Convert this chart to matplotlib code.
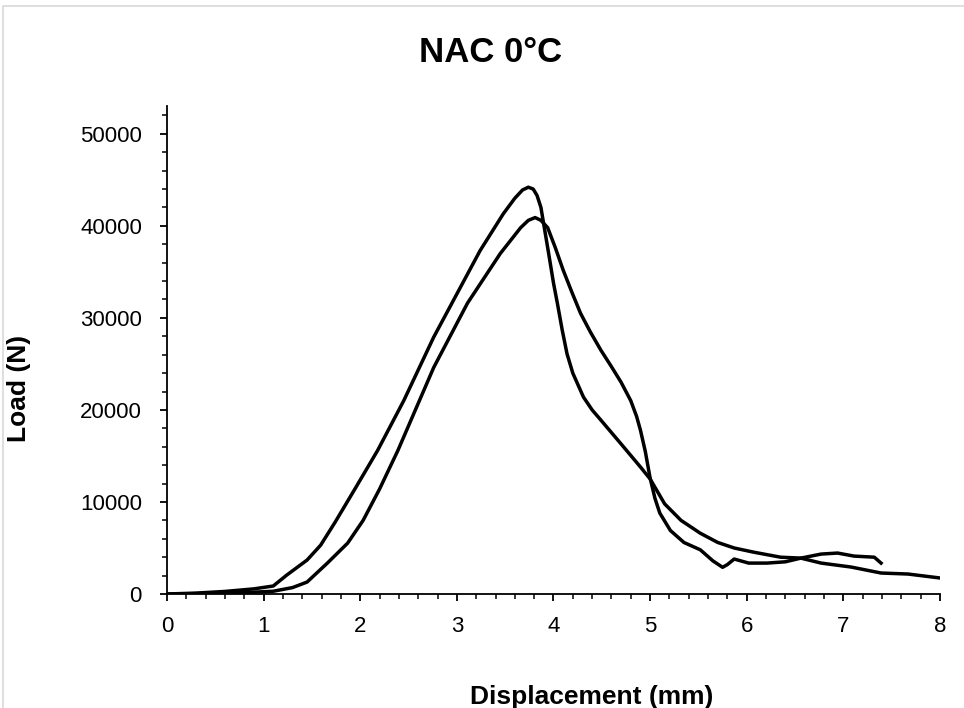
import numpy as np
import matplotlib.pyplot as plt
from matplotlib.ticker import MultipleLocator
from matplotlib.patches import Rectangle

# Specimen 1 (higher peak, tail runs to 8 mm)
disp_1 = [0.0, 0.3, 0.6, 0.9, 1.1, 1.24, 1.45, 1.59, 1.74, 1.95, 2.18, 2.45, 2.76, 3.0,
          3.24, 3.48, 3.6, 3.68, 3.74, 3.79, 3.83, 3.87, 3.91, 3.95, 4.0, 4.04, 4.09,
          4.14, 4.2, 4.31, 4.4, 4.49, 4.7, 4.9, 5.0, 5.15, 5.32, 5.52, 5.7, 5.87, 6.07,
          6.35, 6.56, 6.77, 7.08, 7.39, 7.67, 8.0]
load_1 = [0, 100, 280, 560, 870, 2060, 3690, 5300, 7800, 11500, 15600, 21000, 27900, 32600,
          37300, 41300, 43000, 43900, 44200, 44000, 43300, 42000, 39500, 37000, 33800,
          31600, 28700, 26100, 24000, 21400, 20000, 18900, 16300, 13800, 12500, 9800,
          8000, 6600, 5600, 5000, 4550, 4000, 3900, 3360, 2930, 2280, 2170, 1740]

# Specimen 2 (lower peak, ends near 7.4 mm)
disp_2 = [0.0, 0.4, 0.8, 1.1, 1.3, 1.45, 1.66, 1.87, 2.03, 2.2, 2.39, 2.76, 3.11, 3.45,
          3.66, 3.74, 3.81, 3.87, 3.94, 4.02, 4.1, 4.19, 4.28, 4.38, 4.49, 4.6, 4.7, 4.8,
          4.86, 4.9, 4.95, 5.0, 5.05, 5.1, 5.21, 5.35, 5.52, 5.65, 5.75, 5.8, 5.87, 6.02,
          6.21, 6.4, 6.56, 6.77, 6.94, 7.11, 7.32, 7.39]
load_2 = [0, 50, 150, 300, 700, 1300, 3360, 5530, 8000, 11400, 15600, 24600, 31600, 37000,
          39800, 40600, 40900, 40600, 39800, 37600, 35200, 32800, 30500, 28500, 26500,
          24700, 23000, 21000, 19300, 17800, 15500, 12600, 10400, 8800, 6900, 5600, 4800,
          3600, 2900, 3200, 3800, 3360, 3360, 3500, 3900, 4340, 4450, 4120, 4000, 3360]

x_ticks = [0, 1, 2, 3, 4, 5, 6, 7, 8]
y_ticks = [0, 10000, 20000, 30000, 40000, 50000]


def main():
    plt.rcParams['font.family'] = ['Liberation Sans', 'DejaVu Sans']
    fig = plt.figure(figsize=(9.64, 7.08), dpi=100)
    ax = fig.add_axes([0.1732, 0.161, 0.8019, 0.689])

    # light frame of the original chart area (only top and left edges are visible)
    fig.add_artist(Rectangle((3 / 964, -0.1), 1.2, 1.1 - 6 / 708, transform=fig.transFigure,
                             fill=False, edgecolor='#d9d9d9', linewidth=1.2))

    ax.plot(disp_1, load_1, color='black', linewidth=2.5, solid_joinstyle='round')
    ax.plot(disp_2, load_2, color='black', linewidth=2.5, solid_joinstyle='round')

    ax.set_xlim(0, 8)
    ax.set_ylim(0, 53000)
    ax.set_xticks(x_ticks)
    ax.set_yticks(y_ticks)
    ax.xaxis.set_minor_locator(MultipleLocator(0.2))
    ax.yaxis.set_minor_locator(MultipleLocator(2000))

    for side in ['top', 'right']:
        ax.spines[side].set_visible(False)
    for side in ['left', 'bottom']:
        ax.spines[side].set_linewidth(1.3)
    ax.tick_params(which='major', direction='out', length=5, width=1.3, labelsize=16)
    ax.tick_params(axis='x', which='major', pad=11)
    ax.tick_params(axis='y', which='major', pad=13)
    ax.tick_params(which='minor', direction='out', length=3.5, width=1.1)

    ax.set_xlabel("Displacement (mm)", fontsize=19, fontweight='bold')
    ax.set_ylabel("Load (N)", fontsize=19, fontweight='bold')
    ax.xaxis.set_label_coords(0.55, -0.186)
    ax.yaxis.set_label_coords(-0.176, 0.422)

    fig.text(0.509, 1 - 62 / 708, "NAC 0°C", ha='center', va='baseline', fontsize=25,
             fontweight='bold')

    plt.savefig('out.png', dpi=100)
    plt.close()


if __name__ == "__main__":
    main()
